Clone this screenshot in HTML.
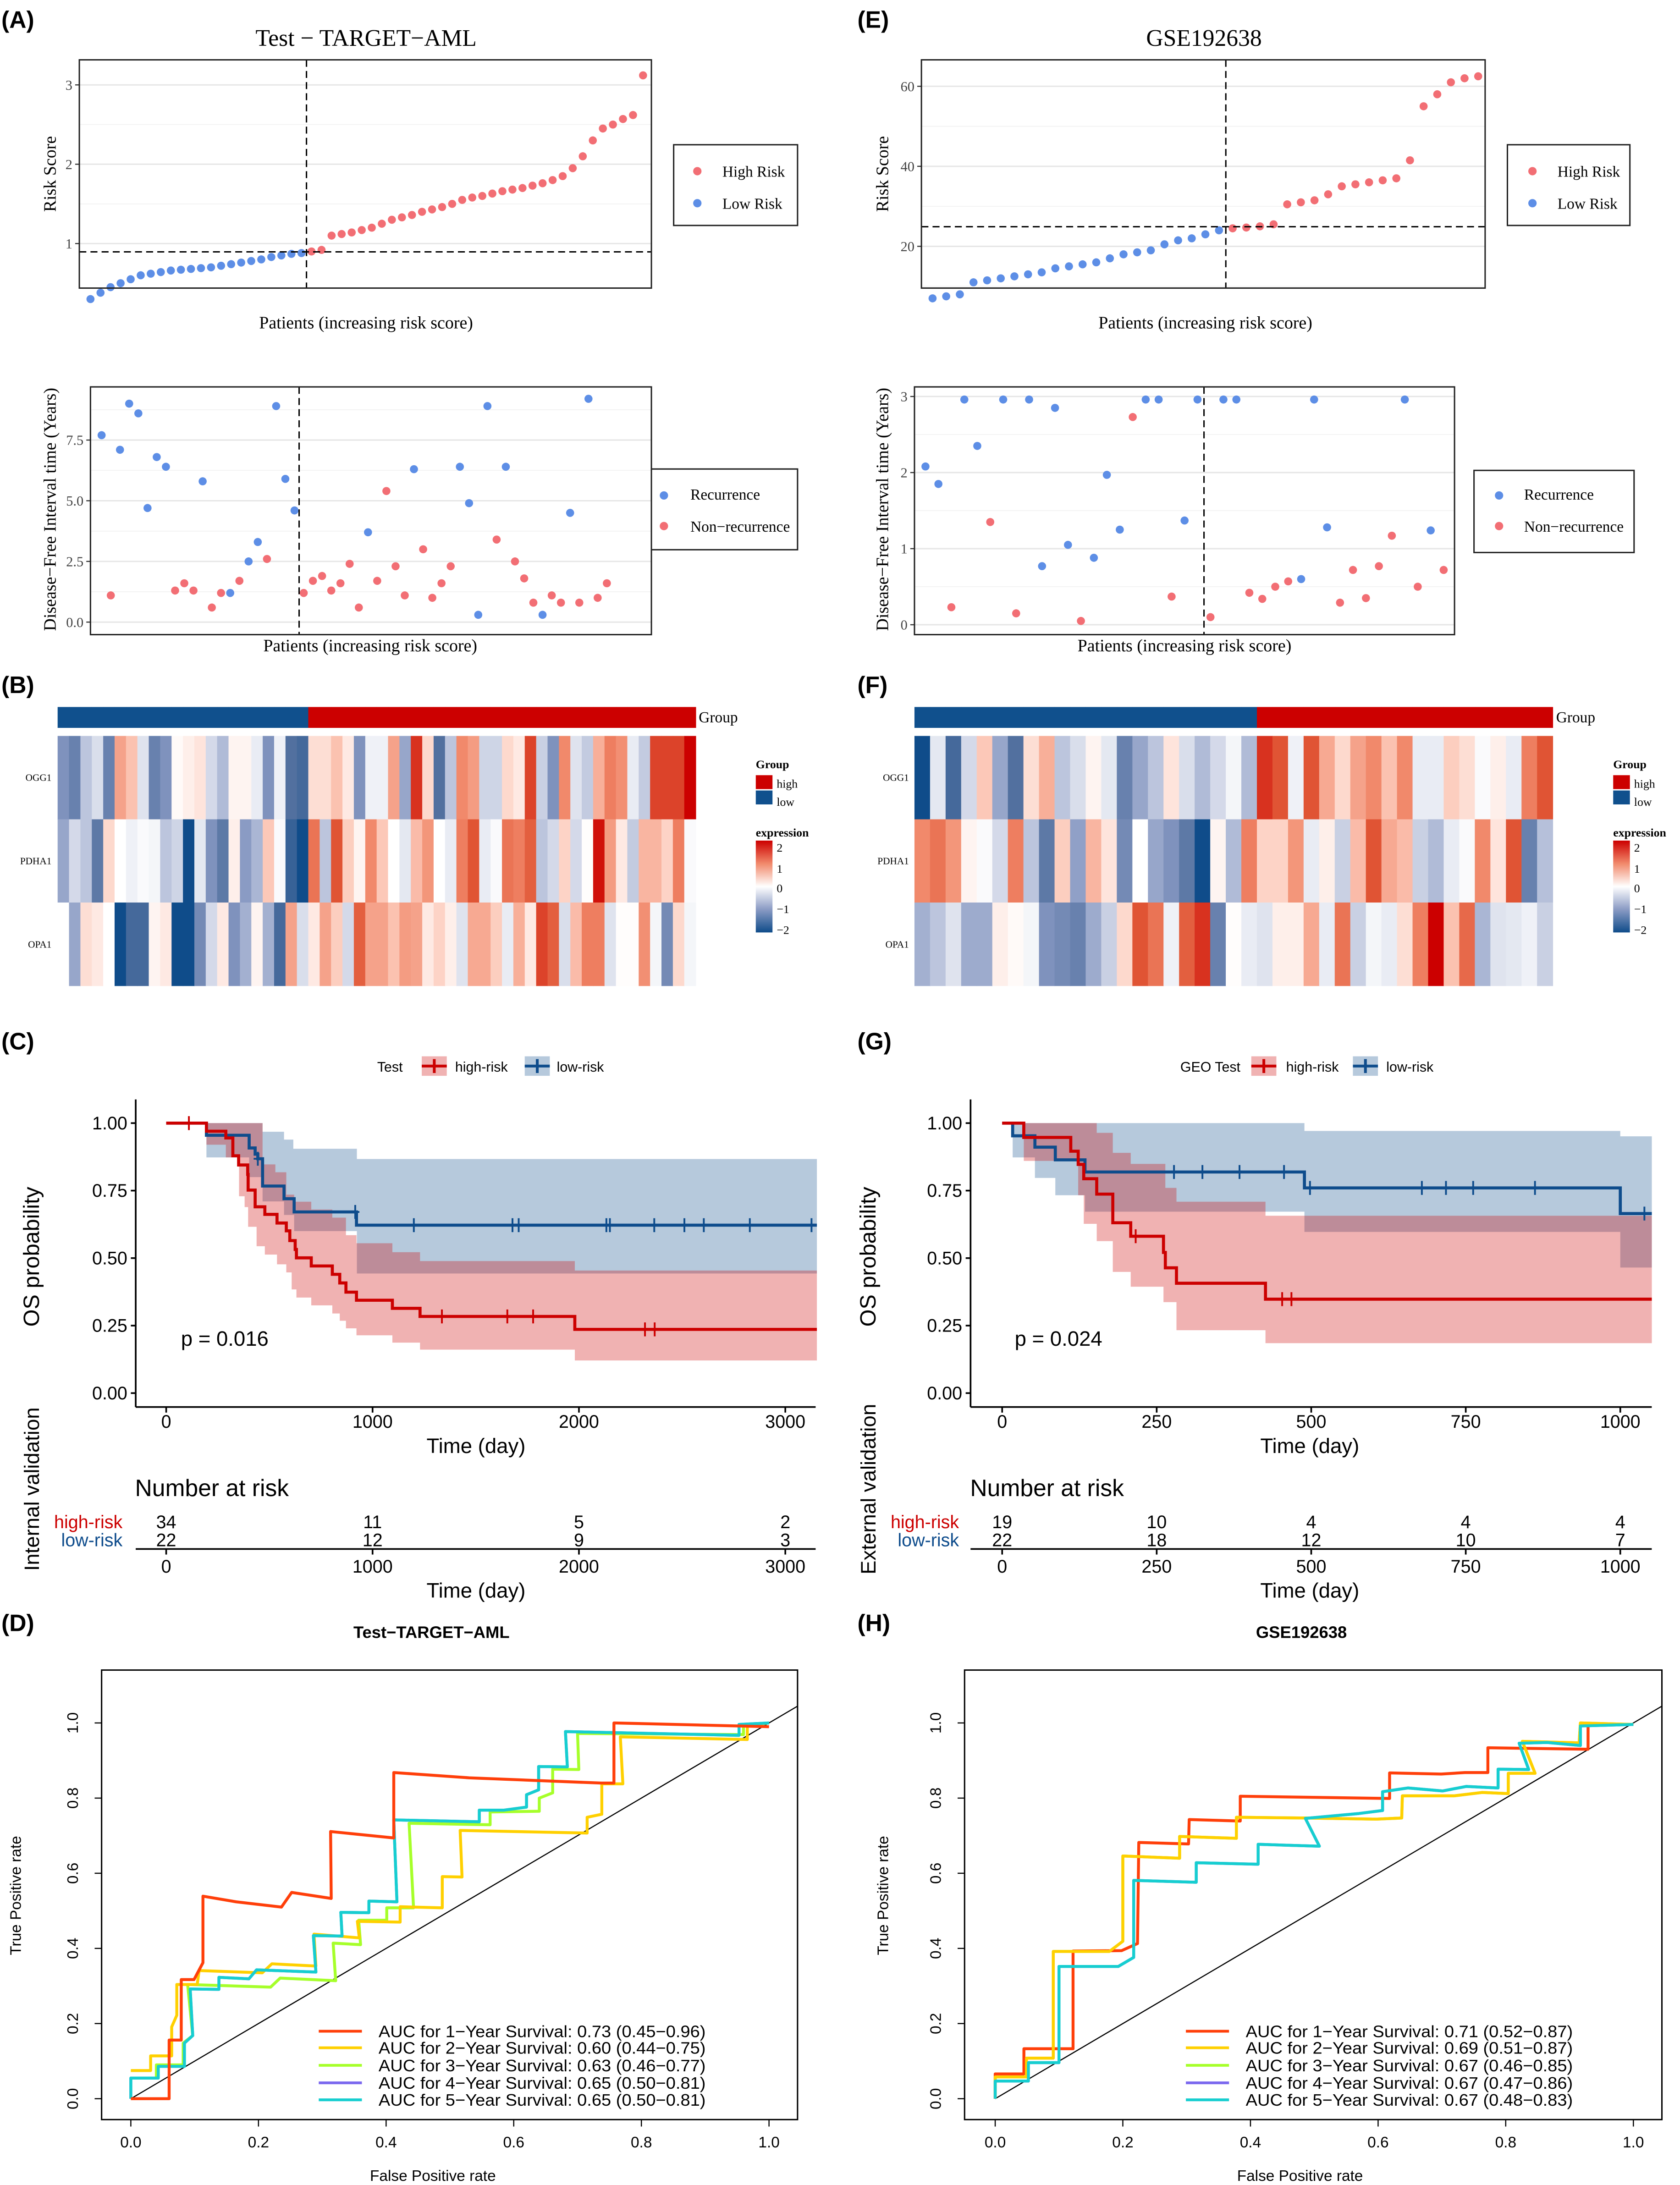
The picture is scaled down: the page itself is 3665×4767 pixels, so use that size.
<!DOCTYPE html>
<html><head><meta charset="utf-8"><style>body{margin:0;background:#fff}svg{display:block}
.sf{font-family:"Liberation Serif",serif}.ss{font-family:"Liberation Sans",sans-serif}</style></head>
<body>
<svg id="fig" xmlns="http://www.w3.org/2000/svg" width="3665" height="4767" viewBox="0 0 1207 1570" preserveAspectRatio="none">
<rect x="0" y="0" width="1207" height="1570" fill="#fff"/>
<g class="ss" font-weight="bold" font-size="17" fill="#000">
<text x="1" y="20">(A)</text>
<text x="616" y="20">(E)</text>
<text x="1" y="498">(B)</text>
<text x="616" y="498">(F)</text>
<text x="1" y="754">(C)</text>
<text x="616" y="754">(G)</text>
<text x="1" y="1172">(D)</text>
<text x="616" y="1172">(H)</text>
</g>
<g class="sf" fill="#000">
<text x="263" y="33" font-size="17" text-anchor="middle">Test − TARGET−AML</text>
<text x="865" y="33" font-size="17" text-anchor="middle">GSE192638</text>
<text x="263" y="236" font-size="12.5" text-anchor="middle">Patients (increasing risk score)</text>
<text x="866" y="236" font-size="12.5" text-anchor="middle">Patients (increasing risk score)</text>
<text x="266" y="468" font-size="12.5" text-anchor="middle">Patients (increasing risk score)</text>
<text x="851" y="468" font-size="12.5" text-anchor="middle">Patients (increasing risk score)</text>
<text transform="translate(40,125) rotate(-90)" font-size="12.5" text-anchor="middle">Risk Score</text>
<text transform="translate(638,125) rotate(-90)" font-size="12.5" text-anchor="middle">Risk Score</text>
<text transform="translate(40,366) rotate(-90)" font-size="12.5" text-anchor="middle">Disease−Free Interval time (Years)</text>
<text transform="translate(638,366) rotate(-90)" font-size="12.5" text-anchor="middle">Disease−Free Interval time (Years)</text>
<rect x="484" y="104" width="89" height="58" fill="#fff" stroke="#222"/>
<circle cx="501" cy="123" r="3" fill="#F26E74"/>
<text x="519" y="127" font-size="11">High Risk</text>
<circle cx="501" cy="146" r="3" fill="#5D8EE6"/>
<text x="519" y="150" font-size="11">Low Risk</text>
<rect x="1083" y="104" width="88" height="58" fill="#fff" stroke="#222"/>
<circle cx="1101" cy="123" r="3" fill="#F26E74"/>
<text x="1119" y="127" font-size="11">High Risk</text>
<circle cx="1101" cy="146" r="3" fill="#5D8EE6"/>
<text x="1119" y="150" font-size="11">Low Risk</text>
<rect x="460" y="337" width="113" height="58" fill="#fff" stroke="#222"/>
<circle cx="477" cy="356" r="3" fill="#5D8EE6"/>
<text x="496" y="359" font-size="11">Recurrence</text>
<circle cx="477" cy="378" r="3" fill="#F26E74"/>
<text x="496" y="382" font-size="11">Non−recurrence</text>
<rect x="1059" y="338" width="115" height="59" fill="#fff" stroke="#222"/>
<circle cx="1077" cy="356" r="3" fill="#5D8EE6"/>
<text x="1095" y="359" font-size="11">Recurrence</text>
<circle cx="1077" cy="378" r="3" fill="#F26E74"/>
<text x="1095" y="382" font-size="11">Non−recurrence</text>
<g font-size="7">
<text x="37" y="561" text-anchor="end">OGG1</text>
<text x="37" y="621" text-anchor="end">PDHA1</text>
<text x="37" y="681" text-anchor="end">OPA1</text>
<text x="653" y="561" text-anchor="end">OGG1</text>
<text x="653" y="621" text-anchor="end">PDHA1</text>
<text x="653" y="681" text-anchor="end">OPA1</text>
</g>
<text x="502" y="519" font-size="11">Group</text>
<text x="1118" y="519" font-size="11">Group</text>
</g>
<defs><linearGradient id="cbar" x1="0" y1="0" x2="0" y2="1">
<stop offset="0" stop-color="#CC0000"/><stop offset="0.25" stop-color="#F1896B"/><stop offset="0.5" stop-color="#FFFFFF"/><stop offset="0.75" stop-color="#8A9BC4"/><stop offset="1" stop-color="#0F4C8A"/></linearGradient></defs>
<g id="hlegB" class="sf" font-size="8.5">
<text x="543" y="552" font-weight="bold">Group</text>
<rect x="543" y="557" width="12" height="10" fill="#CC0000"/>
<text x="558" y="566">high</text>
<rect x="543" y="568" width="12" height="10" fill="#10508D"/>
<text x="558" y="579">low</text>
<text x="543" y="601" font-weight="bold">expression</text>
<rect x="543" y="604" width="12" height="66" fill="url(#cbar)"/>
<text x="558" y="612">2</text>
<text x="558" y="627">1</text>
<text x="558" y="641">0</text>
<text x="558" y="656">−1</text>
<text x="558" y="671">−2</text>
</g>
<g class="sf" font-size="8.5" transform="translate(616,0)">
<text x="543" y="552" font-weight="bold">Group</text>
<rect x="543" y="557" width="12" height="10" fill="#CC0000"/>
<text x="558" y="566">high</text>
<rect x="543" y="568" width="12" height="10" fill="#10508D"/>
<text x="558" y="579">low</text>
<text x="543" y="601" font-weight="bold">expression</text>
<rect x="543" y="604" width="12" height="66" fill="url(#cbar)"/>
<text x="558" y="612">2</text>
<text x="558" y="627">1</text>
<text x="558" y="641">0</text>
<text x="558" y="656">−1</text>
<text x="558" y="671">−2</text>
</g>
<g class="ss" fill="#000">
<text x="271" y="770" font-size="10">Test</text>
<text x="327" y="770" font-size="10">high-risk</text>
<text x="400" y="770" font-size="10">low-risk</text>
<text x="848" y="770" font-size="10">GEO Test</text>
<text x="924" y="770" font-size="10">high-risk</text>
<text x="996" y="770" font-size="10">low-risk</text>
<text transform="translate(28,903) rotate(-90)" font-size="16" text-anchor="middle">OS probability</text>
<text transform="translate(629,903) rotate(-90)" font-size="16" text-anchor="middle">OS probability</text>
<text x="342" y="1044" font-size="15" text-anchor="middle">Time (day)</text>
<text x="941" y="1044" font-size="15" text-anchor="middle">Time (day)</text>
<text x="130" y="967" font-size="15">p = 0.016</text>
<text x="729" y="967" font-size="15">p = 0.024</text>
<text transform="translate(28,1070) rotate(-90)" font-size="15" text-anchor="middle">Internal validation</text>
<text transform="translate(629,1070) rotate(-90)" font-size="15" text-anchor="middle">External validation</text>
<text x="97" y="1075" font-size="17">Number at risk</text>
<text x="697" y="1075" font-size="17">Number at risk</text>
<text x="88" y="1098" font-size="13" fill="#CC0000" text-anchor="end">high-risk</text>
<text x="88" y="1111" font-size="13" fill="#0E4C8C" text-anchor="end">low-risk</text>
<text x="689" y="1098" font-size="13" fill="#CC0000" text-anchor="end">high-risk</text>
<text x="689" y="1111" font-size="13" fill="#0E4C8C" text-anchor="end">low-risk</text>
<text x="342" y="1148" font-size="15" text-anchor="middle">Time (day)</text>
<text x="941" y="1148" font-size="15" text-anchor="middle">Time (day)</text>
<text x="310" y="1177" font-size="12" font-weight="bold" text-anchor="middle">Test−TARGET−AML</text>
<text x="935" y="1177" font-size="12" font-weight="bold" text-anchor="middle">GSE192638</text>
<text transform="translate(15,1362) rotate(-90)" font-size="11" text-anchor="middle">True Positive rate</text>
<text transform="translate(638,1362) rotate(-90)" font-size="11" text-anchor="middle">True Positive rate</text>
<text x="311" y="1567" font-size="11" text-anchor="middle">False Positive rate</text>
<text x="934" y="1567" font-size="11" text-anchor="middle">False Positive rate</text>
</g>
<g id="dyn"></g>
</svg>
<script>
// ---------- data ----------
const riskLowA=[0.3,0.38,0.45,0.5,0.55,0.6,0.62,0.64,0.66,0.67,0.68,0.69,0.7,0.72,0.74,0.76,0.78,0.8,0.83,0.85,0.87,0.88];
const riskHighA=[0.9,0.92,1.1,1.12,1.14,1.17,1.2,1.25,1.3,1.33,1.36,1.4,1.43,1.46,1.5,1.55,1.58,1.6,1.63,1.66,1.68,1.7,1.73,1.76,1.8,1.85,1.95,2.1,2.3,2.45,2.5,2.57,2.62,3.12];
const cutA=0.895;
const dfiTimeA=[7.7,1.1,7.1,9.0,8.6,4.7,6.8,6.4,1.3,1.6,1.3,5.8,0.6,1.2,1.2,1.7,2.5,3.3,2.6,8.9,5.9,4.6,1.2,1.7,1.9,1.3,1.6,2.4,0.6,3.7,1.7,5.4,2.3,1.1,6.3,3.0,1.0,1.6,2.3,6.4,4.9,0.3,8.9,3.4,6.4,2.5,1.8,0.8,0.3,1.1,0.8,4.5,0.8,9.2,1.0,1.6];
const dfiStatA=[1,0,1,1,1,1,1,1,0,0,0,1,0,0,1,0,1,1,0,1,1,1,0,0,0,0,0,0,0,1,0,0,0,0,1,0,0,0,0,1,1,1,1,0,1,0,0,0,1,0,0,1,0,1,0,0];
const riskLowE=[7,7.5,8,11,11.5,12,12.5,13,13.5,14.5,15,15.5,16,17,18,18.5,19,20.5,21.5,22,23,24];
const riskHighE=[24.5,24.7,25,25.5,30.5,31,31.5,33,35,35.5,36,36.5,37,41.5,55,58,61,62,62.5];
const cutE=24.9;
const dfiTimeE=[2.08,1.85,0.23,2.96,2.35,1.35,2.96,0.15,2.96,0.77,2.85,1.05,0.05,0.88,1.97,1.25,2.73,2.96,2.96,0.37,1.37,2.96,0.1,2.96,2.96,0.42,0.34,0.5,0.57,0.6,2.96,1.28,0.29,0.72,0.35,0.77,1.17,2.96,0.5,1.24,0.72];
const dfiStatE=[1,1,0,1,1,0,1,0,1,1,1,1,0,1,1,1,0,1,1,0,1,1,0,1,1,0,0,0,0,1,1,1,0,0,0,0,0,1,0,1,0];
const hmB_OGG1=[-1.1,-1.3,-0.6,-0.35,-1.3,0.8,0.55,-0.3,-1.3,-1.1,0.05,0.15,0.25,-0.4,-0.7,0.1,0.1,-0.2,-1.1,-0.15,-1.5,-1.6,0.3,0.3,0.55,0.2,-1.1,-0.15,-0.15,0.8,-0.9,1.7,0.35,-1.5,-0.6,1.0,0.85,-0.45,-0.45,0.35,0.2,1.6,-0.5,-1.1,1.0,-0.3,-0.55,0.7,1.1,0.95,-0.2,-0.55,1.6,1.6,1.6,2.0];
const hmB_PDHA1=[-0.9,-0.4,-0.6,-1.4,0.35,0.0,-0.15,-0.05,-0.1,-0.6,-0.45,-2.0,-0.25,-1.1,-1.4,0.15,-1.0,-0.75,0.5,-0.05,-1.7,-2.0,1.2,-0.6,1.5,0.45,0.1,1.0,0.5,0.0,-0.25,0.6,0.9,0.0,-0.2,1.1,1.5,-0.2,-0.05,1.2,1.1,1.4,-0.6,-0.4,0.4,-0.4,0.02,1.9,0.85,0.2,-0.55,0.65,0.65,0.4,1.1,-0.05];
const hmB_OPA1=[0.0,-0.9,0.3,0.2,0.0,-2.0,-1.6,-1.6,0.1,0.2,-2.0,-2.0,-1.2,-0.4,0.2,-1.1,-0.8,0.1,-0.8,-1.6,0.8,-0.35,0.2,0.8,0.45,-0.4,1.4,0.8,0.8,0.55,0.85,0.8,0.2,0.4,0.15,-0.3,0.75,0.75,0.45,-0.2,0.7,0.2,1.6,1.4,-0.35,0.6,1.1,1.1,-0.3,0.02,0.02,0.95,-0.1,-1.2,0.35,-0.1];
const hmF_OGG1=[-2.0,-0.25,-1.6,-0.4,0.5,-0.9,-1.5,0.3,0.7,-0.6,-0.35,0.1,-0.25,-1.3,-0.9,-0.6,0.25,-0.35,-0.7,-0.4,-0.1,-0.7,1.7,1.5,-0.15,1.5,0.75,0.35,0.8,1.0,0.55,1.0,-0.2,-0.2,0.45,0.3,-0.05,0.15,-0.2,1.1,1.5];
const hmF_PDHA1=[1.0,1.2,0.9,0.1,-0.05,-0.4,1.1,-0.6,-1.4,0.45,-0.95,0.65,0.25,-1.2,0.0,-0.9,-1.1,-1.4,-2.0,0.1,-0.7,1.1,0.4,0.4,0.9,-0.2,0.15,-0.5,0.6,1.5,0.75,0.6,-0.5,-0.7,-0.2,-0.05,1.0,0.25,1.5,-1.3,-0.65];
const hmF_OPA1=[-0.8,-0.6,-0.3,-0.85,-0.85,0.15,0.05,-0.1,-1.1,-1.2,-1.3,-0.85,-0.5,0.35,1.5,1.2,-0.15,1.4,1.7,-1.3,0.02,-0.2,-0.3,0.15,0.15,0.75,-0.2,1.2,-0.5,-0.1,-0.2,0.3,1.1,2.0,0.55,1.3,-0.75,-0.3,-0.25,-0.15,-0.5];
// KM C
const kmCHighT=[195,289,323,351,395,397,431,478,537,582,599,625,631,703,805,841,871,922,1096,1230,1980];
const kmCHighS=[0.970,0.945,0.879,0.845,0.81,0.752,0.690,0.662,0.630,0.601,0.565,0.532,0.501,0.471,0.440,0.408,0.374,0.344,0.314,0.284,0.236];
const kmCHighCens=[110,1336,1653,1778,2320,2367];
const kmCLowT=[195,402,431,444,467,571,620,922];
const kmCLowS=[0.955,0.908,0.885,0.868,0.767,0.72,0.671,0.622];
const kmCLowCens=[444,916,1200,1678,1708,2133,2150,2365,2511,2605,2828,3127];
const bandCHighT=[0,195,289,353,380,397,438,467,478,529,537,582,608,620,631,703,805,841,871,922,1096,1230,1980];
const bandCHighUp=[1,1,1,1,1,1,1,0.847,0.847,0.818,0.818,0.735,0.735,0.709,0.709,0.68,0.65,0.65,0.585,0.555,0.522,0.489,0.454];
const bandCHighLo=[1,0.92,0.873,0.729,0.689,0.616,0.544,0.544,0.513,0.513,0.477,0.447,0.384,0.384,0.354,0.325,0.295,0.268,0.24,0.214,0.187,0.161,0.121];
const bandCLowT=[0,195,402,467,571,616,620,924];
const bandCLowUp=[1,1,1,0.968,0.939,0.905,0.905,0.867];
const bandCLowLo=[1,0.873,0.80,0.71,0.66,0.66,0.60,0.443];
const riskTicksC=[0,1000,2000,3000];
const riskHighC=[34,11,5,2];
const riskLowC=[22,12,9,3];
const kmCEnd=3153;
// KM G
const kmGHighT=[35,111,123,132,153,179,208,261,264,282,426];
const kmGHighS=[0.947,0.896,0.847,0.794,0.737,0.631,0.581,0.521,0.464,0.407,0.348];
const kmGHighCens=[216,453,468];
const kmGLowT=[17,53,86,134,489,1000];
const kmGLowS=[0.953,0.911,0.864,0.819,0.760,0.665];
const kmGLowCens=[278,324,384,456,498,679,718,762,862,1039];
const bandGHighT=[0,35,123,132,153,179,208,261,264,282,426];
const bandGHighUp=[1,1,1,1,0.964,0.89,0.849,0.849,0.76,0.709,0.657];
const bandGHighLo=[1,0.86,0.733,0.627,0.563,0.449,0.394,0.337,0.337,0.233,0.185];
const bandGLowT=[0,17,53,86,134,489,1000];
const bandGLowUp=[1,1,1,1,1,0.971,0.951];
const bandGLowLo=[1,0.873,0.797,0.733,0.672,0.597,0.465];
const riskTicksG=[0,250,500,750,1000];
const riskHighG=[19,10,4,4,4];
const riskLowG=[22,18,12,10,7];
const kmGEnd=1051;
// ROC D
const rocD1F=[0,0.06,0.06,0.079,0.079,0.099,0.113,0.113,0.165,0.236,0.252,0.314,0.313,0.412,0.412,0.53,0.737,0.757,0.757,0.953,1];
const rocD1T=[0,0,0.156,0.156,0.317,0.317,0.362,0.539,0.524,0.510,0.549,0.533,0.711,0.694,0.868,0.854,0.840,0.840,1.0,0.992,0.99];
const rocD2F=[0,0.031,0.031,0.064,0.064,0.072,0.072,0.104,0.107,0.206,0.221,0.290,0.287,0.358,0.355,0.422,0.422,0.488,0.488,0.519,0.516,0.715,0.715,0.738,0.738,0.771,0.767,0.966,0.966,1];
const rocD2T=[0.075,0.075,0.114,0.114,0.191,0.222,0.304,0.304,0.341,0.335,0.359,0.353,0.438,0.428,0.472,0.470,0.511,0.508,0.591,0.590,0.714,0.707,0.749,0.757,0.838,0.838,0.963,0.956,0.994,1];
const rocD3F=[0,0.040,0.040,0.082,0.082,0.097,0.089,0.219,0.234,0.321,0.317,0.360,0.357,0.401,0.401,0.443,0.436,0.563,0.563,0.640,0.640,0.661,0.661,0.702,0.700,0.960,0.960,1];
const rocD3T=[0.055,0.055,0.090,0.090,0.148,0.168,0.304,0.297,0.321,0.314,0.414,0.410,0.475,0.475,0.508,0.508,0.733,0.729,0.763,0.765,0.800,0.814,0.877,0.876,0.972,0.969,0.992,1];
const rocD5F=[0,0,0.043,0.043,0.084,0.084,0.097,0.093,0.138,0.138,0.185,0.197,0.290,0.286,0.331,0.329,0.373,0.373,0.417,0.412,0.546,0.546,0.585,0.620,0.620,0.639,0.639,0.684,0.681,0.953,0.953,1];
const rocD5T=[0,0.055,0.055,0.086,0.086,0.148,0.168,0.292,0.291,0.323,0.319,0.343,0.337,0.434,0.433,0.496,0.495,0.526,0.524,0.742,0.737,0.768,0.768,0.776,0.809,0.822,0.884,0.883,0.977,0.967,0.996,1];
// ROC H
const rocH1F=[0,0,0.045,0.045,0.122,0.122,0.198,0.223,0.225,0.303,0.304,0.384,0.384,0.618,0.618,0.699,0.736,0.772,0.772,0.929,0.929,1];
const rocH1T=[0,0.066,0.066,0.133,0.133,0.393,0.394,0.413,0.682,0.678,0.743,0.739,0.805,0.799,0.867,0.864,0.868,0.868,0.934,0.930,0.996,0.996];
const rocH2F=[0,0,0.049,0.049,0.091,0.091,0.179,0.200,0.200,0.289,0.289,0.378,0.378,0.486,0.597,0.637,0.638,0.719,0.763,0.804,0.804,0.846,0.826,0.915,0.917,1];
const rocH2T=[0,0.058,0.058,0.108,0.108,0.392,0.392,0.419,0.646,0.640,0.698,0.693,0.749,0.747,0.744,0.747,0.806,0.806,0.815,0.812,0.866,0.866,0.951,0.947,1.0,0.996];
const rocH5F=[0,0,0.052,0.052,0.100,0.100,0.193,0.217,0.217,0.315,0.315,0.412,0.412,0.508,0.486,0.570,0.607,0.607,0.647,0.701,0.738,0.788,0.788,0.836,0.821,0.865,0.917,0.917,1];
const rocH5T=[0,0.047,0.047,0.096,0.096,0.352,0.352,0.376,0.581,0.576,0.628,0.624,0.677,0.672,0.746,0.759,0.767,0.817,0.827,0.819,0.831,0.827,0.877,0.876,0.946,0.948,0.940,0.992,0.996];
const aucTextD=["AUC for 1−Year Survival: 0.73 (0.45−0.96)","AUC for 2−Year Survival: 0.60 (0.44−0.75)","AUC for 3−Year Survival: 0.63 (0.46−0.77)","AUC for 4−Year Survival: 0.65 (0.50−0.81)","AUC for 5−Year Survival: 0.65 (0.50−0.81)"];
const aucTextH=["AUC for 1−Year Survival: 0.71 (0.52−0.87)","AUC for 2−Year Survival: 0.69 (0.51−0.87)","AUC for 3−Year Survival: 0.67 (0.46−0.85)","AUC for 4−Year Survival: 0.67 (0.47−0.86)","AUC for 5−Year Survival: 0.67 (0.48−0.83)"];
const rocTicks=[0,0.2,0.4,0.6,0.8,1.0];
const rocColors=["#FF3F0A","#FFD000","#A6FF2A","#7B68EE","#16CED0"];

// ---------- helpers ----------
const NS='http://www.w3.org/2000/svg';
const root=document.getElementById('dyn');
function mk(tag,attrs,parent,name){
  const e=document.createElementNS(NS,tag);
  for(const k in attrs) e.setAttribute(k,attrs[k]);
  
  
  (parent||root).appendChild(e);return e;}
function txt(x,y,s,attrs,name){const a=Object.assign({x:x,y:y},attrs||{});const e=mk('text',a,root,name);e.textContent=s;return e;}
function line(x1,y1,x2,y2,attrs,name){return mk('line',Object.assign({x1:x1,y1:y1,x2:x2,y2:y2},attrs||{}),root,name);}
const RED='#F26E74',BLUE='#5D8EE6';

// ---------- scatter panels ----------
function scatterPanel(o){
  mk('rect',{x:o.bx0,y:o.by0,width:o.bx1-o.bx0,height:o.by1-o.by0,fill:'#fff'},root,o.name+'-plot-area');
  o.minor.forEach(v=>line(o.bx0,o.ys(v),o.bx1,o.ys(v),{stroke:'#F2F2F2','stroke-width':0.6},o.name+'-minor-gridline'));
  o.ticks.forEach(v=>{
    line(o.bx0,o.ys(v),o.bx1,o.ys(v),{stroke:'#E6E6E6','stroke-width':1},o.name+'-gridline');
    line(o.bx0-3,o.ys(v),o.bx0,o.ys(v),{stroke:'#333','stroke-width':0.8},o.name+'-y-tick');
    txt(o.bx0-5,o.ys(v)+3.5,o.tl(v),{'font-size':10,'text-anchor':'end',fill:'#444','font-family':'Liberation Serif, serif'},o.name+'-y-tick-label');
  });
  o.pts.forEach(p=>mk('circle',{cx:p[0],cy:p[1],r:2.9,fill:p[2]},root,o.name+'-point'));
  if(o.hcut!==undefined) line(o.bx0,o.hcut,o.bx1,o.hcut,{stroke:'#000','stroke-width':1,'stroke-dasharray':'5,3'},o.name+'-cutoff-line');
  line(o.vcut,o.by0,o.vcut,o.by1,{stroke:'#000','stroke-width':1,'stroke-dasharray':'5,3'},o.name+'-split-line');
  mk('rect',{x:o.bx0,y:o.by0,width:o.bx1-o.bx0,height:o.by1-o.by0,fill:'none',stroke:'#222','stroke-width':1}, root,o.name+'-frame');
}
// A top
(function(){
  const all=riskLowA.concat(riskHighA);const n=all.length;
  const xs=i=>65+i*(462-65)/(n-1), ys=v=>175-(v-1)*57;
  const pts=all.map((v,i)=>[xs(i),ys(v),i<riskLowA.length?BLUE:RED]);
  scatterPanel({name:'risk-a',bx0:57,bx1:468,by0:43,by1:207,ys:ys,ticks:[1,2,3],minor:[1.5,2.5],tl:v=>String(v),pts:pts,hcut:ys(cutA),vcut:xs(riskLowA.length-0.5)});
})();
// A bottom
(function(){
  const n=dfiTimeA.length;
  const xs=i=>73+i*(436-73)/(n-1), ys=v=>447-v*17.44;
  const pts=dfiTimeA.map((v,i)=>[xs(i),ys(v),dfiStatA[i]?BLUE:RED]);
  scatterPanel({name:'dfi-a',bx0:65,bx1:468,by0:278,by1:456,ys:ys,ticks:[0,2.5,5,7.5],minor:[1.25,3.75,6.25,8.75],tl:v=>v.toFixed(1),pts:pts,vcut:xs(riskLowA.length-0.5)});
})();
// E top
(function(){
  const all=riskLowE.concat(riskHighE);const n=all.length;
  const xs=i=>670+i*(1062-670)/(n-1), ys=v=>177-(v-20)*2.875;
  const pts=all.map((v,i)=>[xs(i),ys(v),i<riskLowE.length?BLUE:RED]);
  scatterPanel({name:'risk-e',bx0:662,bx1:1067,by0:43,by1:207,ys:ys,ticks:[20,40,60],minor:[10,30,50],tl:v=>String(v),pts:pts,hcut:ys(cutE),vcut:xs(riskLowE.length-0.5)});
})();
// E bottom
(function(){
  const n=dfiTimeE.length;
  const xs=i=>664.9+i*(1037.2-664.9)/(n-1), ys=v=>448.9-v*54.67;
  const pts=dfiTimeE.map((v,i)=>[xs(i),ys(v),dfiStatE[i]?BLUE:RED]);
  scatterPanel({name:'dfi-e',bx0:657,bx1:1045,by0:278,by1:456,ys:ys,ticks:[0,1,2,3],minor:[0.5,1.5,2.5],tl:v=>String(v),pts:pts,vcut:xs(riskLowE.length-0.5)});
})();

// ---------- heatmaps ----------
const stops=[[-2,[15,76,138]],[-1.5,[82,112,159]],[-1,[138,155,196]],[-0.5,[201,208,227]],[0,[255,255,255]],[0.5,[252,200,184]],[1,[241,137,107]],[1.5,[224,84,52]],[2,[204,0,0]]];
function col(v){v=Math.max(-2,Math.min(2,v));for(let i=0;i<stops.length-1;i++){const a=stops[i],b=stops[i+1];if(v<=b[0]){const t=(v-a[0])/(b[0]-a[0]);return 'rgb('+a[1].map((c,k)=>Math.round(c+(b[1][k]-c)*t)).join(',')+')';}}return 'rgb(204,0,0)';}
function heatmap(name,x0,x1,rows,nLow){
  const n=rows[0].length,w=(x1-x0)/n;
  for(let i=0;i<n;i++) mk('rect',{x:x0+i*w,y:508,width:w+0.3,height:15,fill:i<nLow?'#10508D':'#CC0000'},root,name+'-group-cell');
  const ry=[528.8,588.7,648.5,708.3];
  rows.forEach((r,j)=>r.forEach((v,i)=>mk('rect',{x:x0+i*w,y:ry[j],width:w+0.3,height:ry[j+1]-ry[j]+0.2,fill:col(v)},root,name+'-cell')));
}
heatmap('heatmap-b',41.4,499.8,[hmB_OGG1,hmB_PDHA1,hmB_OPA1],22);
heatmap('heatmap-f',657,1115.5,[hmF_OGG1,hmF_PDHA1,hmF_OPA1],22);

// ---------- KM ----------
function stepVal(T,S,t){let s=1;for(let i=0;i<T.length;i++){if(T[i]<=t)s=S[i];}return s;}
function stepPath(T,S,end,xs,ys){let d='M'+xs(0)+','+ys(1);let s=1;for(let i=0;i<T.length;i++){d+=' H'+xs(T[i])+' V'+ys(S[i]);}d+=' H'+xs(end);return d;}
function bandPath(T,U,L,end,xs,ys){let d='M'+xs(T[0])+','+ys(U[0]);for(let i=1;i<T.length;i++){d+=' H'+xs(T[i])+' V'+ys(U[i]);}d+=' H'+xs(end)+' V'+ys(L[L.length-1]);for(let i=T.length-1;i>0;i--){d+=' H'+xs(T[i])+' V'+ys(L[i-1]);}d+=' H'+xs(T[0])+' Z';return d;}
function km(o){
  const xs=o.xs,ys=s=>1001-s*194;
  mk('path',{d:bandPath(o.bLT,o.bLU,o.bLL,o.end,xs,ys),fill:'#0E4C8C','fill-opacity':0.3},root,o.name+'-ci-band-low');
  mk('path',{d:bandPath(o.bHT,o.bHU,o.bHL,o.end,xs,ys),fill:'#CC0000','fill-opacity':0.3},root,o.name+'-ci-band-high');
  mk('path',{d:stepPath(o.lT,o.lS,o.end,xs,ys),fill:'none',stroke:'#0E4C8C','stroke-width':2.2},root,o.name+'-curve-low-risk');
  mk('path',{d:stepPath(o.hT,o.hS,o.end,xs,ys),fill:'none',stroke:'#CC0000','stroke-width':2.2},root,o.name+'-curve-high-risk');
  o.lC.forEach(t=>{const y=ys(stepVal(o.lT,o.lS,t));mk('path',{d:'M'+(xs(t)-3)+','+y+' h6 M'+xs(t)+','+(y-5)+' v10',stroke:'#0E4C8C','stroke-width':1.3},root,o.name+'-censor-low');});
  o.hC.forEach(t=>{const y=ys(stepVal(o.hT,o.hS,t));mk('path',{d:'M'+(xs(t)-3)+','+y+' h6 M'+xs(t)+','+(y-5)+' v10',stroke:'#CC0000','stroke-width':1.3},root,o.name+'-censor-high');});
  // axes
  line(o.ax,790,o.ax,1011,{stroke:'#000','stroke-width':1.2},o.name+'-y-axis');
  line(o.ax,1011,o.axr,1011,{stroke:'#000','stroke-width':1.2},o.name+'-x-axis');
  [0,0.25,0.5,0.75,1].forEach(s=>{line(o.ax-3.5,ys(s),o.ax,ys(s),{stroke:'#000','stroke-width':1.2},o.name+'-y-tick');
    txt(o.ax-6,ys(s)+4.5,s.toFixed(2),{'font-size':13,'text-anchor':'end','font-family':'Liberation Sans, sans-serif'},o.name+'-y-tick-label');});
  o.ticks.forEach(t=>{line(xs(t),1011,xs(t),1015,{stroke:'#000','stroke-width':1.2},o.name+'-x-tick');
    txt(xs(t),1026,String(t),{'font-size':13,'text-anchor':'middle','font-family':'Liberation Sans, sans-serif'},o.name+'-x-tick-label');});
  // risk table
  o.ticks.forEach((t,i)=>{
    txt(xs(t),1098,String(o.rH[i]),{'font-size':13,'text-anchor':'middle','font-family':'Liberation Sans, sans-serif'},o.name+'-risk-high');
    txt(xs(t),1111,String(o.rL[i]),{'font-size':13,'text-anchor':'middle','font-family':'Liberation Sans, sans-serif'},o.name+'-risk-low');
    line(xs(t),1113,xs(t),1117,{stroke:'#000','stroke-width':1.2},o.name+'-risk-x-tick');
    txt(xs(t),1130,String(t),{'font-size':13,'text-anchor':'middle','font-family':'Liberation Sans, sans-serif'},o.name+'-risk-x-tick-label');
  });
  line(o.ax,1113,o.axr,1113,{stroke:'#000','stroke-width':1.2},o.name+'-risk-x-axis');
  // legend keys
  [[o.k1,'#CC0000'],[o.k2,'#0E4C8C']].forEach(k=>{
    mk('rect',{x:k[0],y:759,width:18,height:14,fill:k[1],'fill-opacity':0.3},root,o.name+'-legend-key');
    mk('path',{d:'M'+k[0]+',766 h18 M'+(k[0]+9)+',761 v10',stroke:k[1],'stroke-width':2},root,o.name+'-legend-key-line');
  });
}
km({name:'km-c',xs:t=>119.4+t*0.14827,end:kmCEnd,hT:kmCHighT,hS:kmCHighS,hC:kmCHighCens,lT:kmCLowT,lS:kmCLowS,lC:kmCLowCens,
  bHT:bandCHighT,bHU:bandCHighUp,bHL:bandCHighLo,bLT:bandCLowT,bLU:bandCLowUp,bLL:bandCLowLo,ax:97.5,axr:586,ticks:riskTicksC,rH:riskHighC,rL:riskLowC,k1:303,k2:377});
km({name:'km-g',xs:t=>720+t*0.4441,end:kmGEnd,hT:kmGHighT,hS:kmGHighS,hC:kmGHighCens,lT:kmGLowT,lS:kmGLowS,lC:kmGLowCens,
  bHT:bandGHighT,bHU:bandGHighUp,bHL:bandGHighLo,bLT:bandGLowT,bLU:bandGLowUp,bLL:bandGLowLo,ax:697.3,axr:1186.7,ticks:riskTicksG,rH:riskHighG,rL:riskLowG,k1:899,k2:972});

// ---------- ROC ----------
function roc(o){
  const xs=f=>o.x0+f*458.5, ys=t=>1508-t*270;
  mk('rect',{x:o.bx0,y:1200,width:o.bx1-o.bx0,height:323,fill:'none',stroke:'#000','stroke-width':1},root,o.name+'-frame');
  line(xs(0),ys(0),o.bx1,ys((o.bx1-xs(0))/458.5),{stroke:'#000','stroke-width':0.8},o.name+'-diagonal');
  o.curves.forEach((c,i)=>{
    const d=c[0].map((f,j)=>(j?'L':'M')+xs(f)+','+ys(c[1][j])).join(' ');
    mk('path',{d:d,fill:'none',stroke:rocColors[c[2]],'stroke-width':2.1,'stroke-linejoin':'round'},root,o.name+'-roc-curve-'+(c[2]+1)+'yr');
  });
  rocTicks.forEach(v=>{
    line(xs(v),1523,xs(v),1528,{stroke:'#000','stroke-width':0.8},o.name+'-x-tick');
    txt(xs(v),1543,v.toFixed(1),{'font-size':11,'text-anchor':'middle','font-family':'Liberation Sans, sans-serif'},o.name+'-x-tick-label');
    line(o.bx0-5,ys(v),o.bx0,ys(v),{stroke:'#000','stroke-width':0.8},o.name+'-y-tick');
    txt(0,0,v.toFixed(1),{'font-size':11,'text-anchor':'middle','font-family':'Liberation Sans, sans-serif',transform:'translate('+(o.bx0-17)+','+ys(v)+') rotate(-90)'},o.name+'-y-tick-label');
  });
  const ly=[1459.5,1471.4,1484,1496.6,1508.8];
  o.labels.forEach((s,i)=>{
    line(o.lx,ly[i],o.lx+31,ly[i],{stroke:rocColors[i],'stroke-width':2},o.name+'-legend-line');
    txt(o.lx+43,ly[i]+4.3,s,{'font-size':12,'font-family':'Liberation Sans, sans-serif',textLength:235,lengthAdjust:'spacingAndGlyphs'},o.name+'-legend-entry');
  });
}
roc({name:'roc-d',x0:94,bx0:73,bx1:573,lx:229,labels:aucTextD,curves:[[rocD3F,rocD3T,2],[rocD2F,rocD2T,1],[rocD5F,rocD5T,3],[rocD5F,rocD5T,4],[rocD1F,rocD1T,0]]});
roc({name:'roc-h',x0:715,bx0:693,bx1:1194,lx:852,labels:aucTextH,curves:[[rocH2F,rocH2T,2],[rocH5F,rocH5T,3],[rocH1F,rocH1T,0],[rocH2F,rocH2T,1],[rocH5F,rocH5T,4]]});
</script>
</body></html>
